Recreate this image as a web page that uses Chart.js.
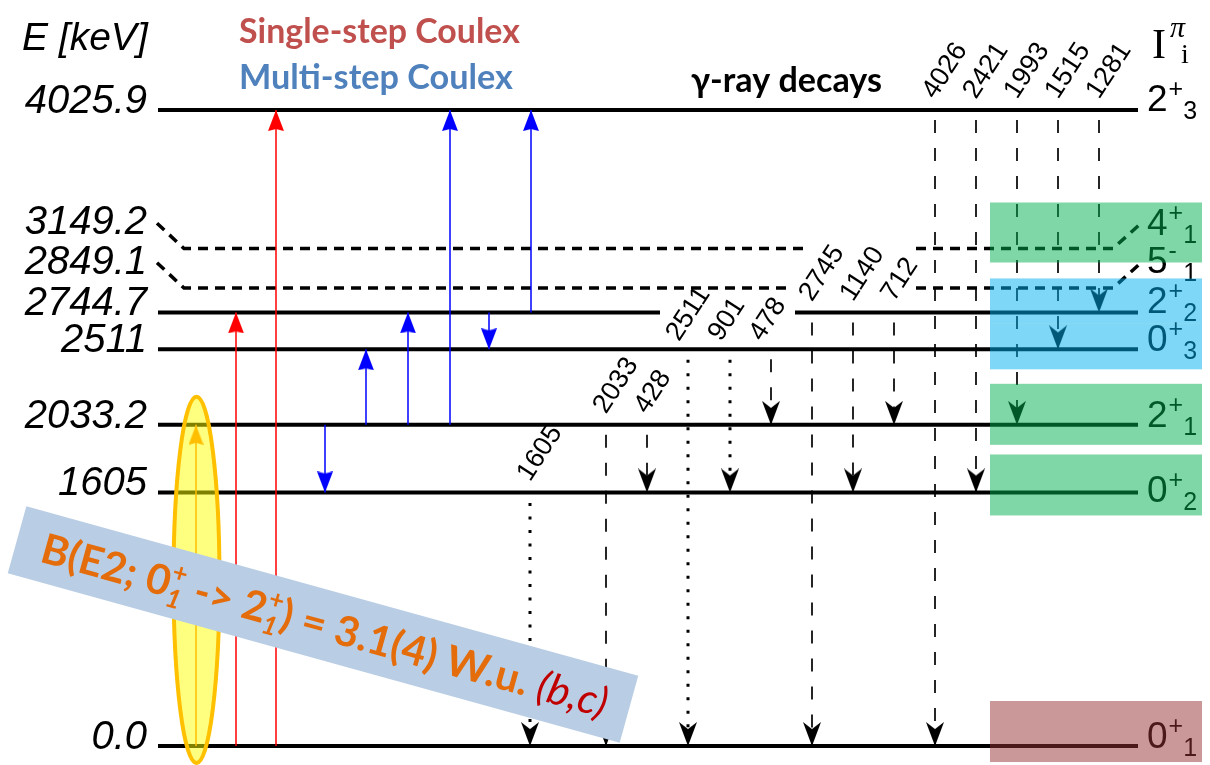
<!DOCTYPE html>
<html>
<head>
<meta charset="utf-8">
<script src="https://cdn.jsdelivr.net/npm/chart.js@4.4.1/dist/chart.umd.min.js"></script>
<style>
  html, body { margin: 0; padding: 0; background: #fff; }
  #wrap { width: 1210px; height: 765px; }
</style>
</head>
<body>
<div id="wrap"><canvas id="scheme" width="1210" height="765"></canvas></div>
<script>
// levels (keV) with spin / parity / index
const levelEnergies = [0.0, 1605, 2033.2, 2511, 2744.7, 2849.1, 3149.2, 4025.9];
const levelLabels = ["0.0", "1605", "2033.2", "2511", "2744.7", "2849.1", "3149.2", "4025.9"];
const levelSpins = ["0", "0", "2", "0", "2", "5", "4", "2"];
const levelParities = ["+", "+", "+", "+", "+", "-", "+", "+"];
const levelIndices = ["1", "2", "1", "3", "2", "1", "1", "3"];
const levelTentative = [false, false, false, false, false, true, true, false];

// Coulomb excitation paths
const singleFrom = [0.0, 0.0];
const singleTo = [2744.7, 4025.9];
const multiFrom = [2033.2, 2033.2, 2033.2, 2744.7, 2033.2, 2744.7];
const multiTo = [2511, 2744.7, 4025.9, 4025.9, 1605, 2511];
const highlightFrom = [0.0];
const highlightTo = [2033.2];

// gamma-ray decays
const gammaLabels = ["1605", "2033", "428", "2511", "901", "478", "2745", "1140", "712", "4026", "2421", "1993", "1515", "1281"];
const gammaFrom = [1605, 2033.2, 2033.2, 2511, 2511, 2511, 2744.7, 2744.7, 2744.7, 4025.9, 4025.9, 4025.9, 4025.9, 4025.9];
const gammaTo = [0.0, 0.0, 1605, 0.0, 1605, 2033.2, 0.0, 1605, 2033.2, 0.0, 1605, 2033.2, 2511, 2744.7];
const gammaDotted = [true, false, false, true, true, false, false, false, false, false, false, false, false, false];

// ---- layout (columns on a 0..1210 x axis) ----
const LX0 = 158, LX1 = 1138;
const singleCols = [236, 276];
const multiCols = [366, 408, 450, 531, 325, 489];
const highlightCols = [196];
const gammaCols = [530, 606, 647, 688, 730, 771, 812, 853, 894, 935, 976, 1017, 1058, 1099];
const levelNudge = [0, 0, 0, 0, 0, 50, 0, 0]; // 2849.1 drawn a bit higher, as in the scheme
const KINK = 160;
const SANS = '"Liberation Sans", Arial, sans-serif';
const SERIF = '"Liberation Serif", "Times New Roman", serif';
const CAL = 'Lato, "Open Sans", sans-serif';

function makeHead(color, w, h, notch, up) {
  const c = document.createElement("canvas");
  c.width = w; c.height = 2 * h;
  const g = c.getContext("2d");
  g.fillStyle = color;
  if (up) { g.translate(0, 2 * h); g.scale(1, -1); }
  g.beginPath();
  g.moveTo(w / 2, h);
  g.lineTo(0, 0);
  g.lineTo(w / 2, notch);
  g.lineTo(w, 0);
  g.closePath();
  g.fill();
  return c;
}

const headBlack = makeHead("#000", 18, 24, 7, false);
const headRedUp = makeHead("#ff0000", 16, 21, 2, true);
const headBlueUp = makeHead("#0000ff", 16, 21, 2, true);
const headBlueDown = makeHead("#0000ff", 16, 21, 2, false);
const headOrangeUp = makeHead("#ff7f00", 15, 20, 2, true);

function arrow(x, e0, e1, color, width, head, dash, offset) {
  return {
    data: [{ x: x, y: e0 }, { x: x, y: e1 }],
    showLine: true,
    borderColor: color,
    borderWidth: width,
    borderDash: dash || [],
    borderDashOffset: offset || 0,
    borderCapStyle: "butt",
    pointRadius: [0, 4],
    pointHoverRadius: [0, 4],
    pointStyle: ["circle", head],
    fill: false
  };
}

const datasets = [];
singleFrom.forEach((e, i) => datasets.push(arrow(singleCols[i], e, singleTo[i], "#ff0000", 1.5, headRedUp)));
highlightFrom.forEach((e, i) => datasets.push(arrow(highlightCols[i], e, highlightTo[i], "#ff7f00", 1.5, headOrangeUp)));
multiFrom.forEach((e, i) => {
  const up = multiTo[i] > e;
  datasets.push(arrow(multiCols[i], e, multiTo[i], "#0000ff", 1.5, up ? headBlueUp : headBlueDown));
});
gammaFrom.forEach((e, i) => {
  const dotted = gammaDotted[i];
  datasets.push(arrow(gammaCols[i], e, gammaTo[i], "#000", dotted ? 3 : 1.7, headBlack,
    dotted ? [3, 10.5] : [13, 15], dotted ? 3 : 18));
});

// level lines
levelEnergies.forEach((e, i) => {
  const E = e + levelNudge[i];
  let pts;
  if (levelTentative[i]) {
    const gapL = e < 3000 ? 787 : 803;
    pts = [{ x: 157, y: E + KINK }, { x: 184, y: E }, { x: gapL, y: E }, { x: 850, y: null },
      { x: 916, y: E }, { x: 1113, y: E }, { x: 1141, y: E + KINK }];
  } else if (e === 2744.7) {
    pts = [{ x: LX0, y: E }, { x: 660, y: E }, { x: 720, y: null }, { x: 795, y: E }, { x: LX1, y: E }];
  } else {
    pts = [{ x: LX0, y: E }, { x: LX1, y: E }];
  }
  datasets.push({
    data: pts,
    showLine: true,
    spanGaps: false,
    borderColor: "#000",
    borderWidth: levelTentative[i] ? 3.5 : 4,
    borderDash: levelTentative[i] ? [10, 7] : [],
    borderCapStyle: "butt",
    pointRadius: 0,
    pointHoverRadius: 0,
    fill: false
  });
});

function fitSize(ctx, text, style, family, target) {
  ctx.font = style + " 100px " + family;
  return 100 * target / ctx.measureText(text).width;
}

const annotations = {
  id: "annotations",
  afterDatasetsDraw(chart) {
    const ctx = chart.ctx;
    const xs = chart.scales.x, ys = chart.scales.y;
    const px = (v) => xs.getPixelForValue(v);
    const py = (v) => ys.getPixelForValue(v);
    ctx.save();
    ctx.textBaseline = "alphabetic";

    // headers
    ctx.fillStyle = "#000";
    ctx.font = "italic 39px " + SANS;
    ctx.textAlign = "left";
    ctx.fillText("E [keV]", 22, 50);

    let s = fitSize(ctx, "Single-step Coulex", "bold", CAL, 281);
    ctx.font = "bold " + s + "px " + CAL;
    ctx.fillStyle = "#c0504d";
    ctx.fillText("Single-step Coulex", 239, 43);
    s = fitSize(ctx, "Multi-step Coulex", "bold", CAL, 274);
    ctx.font = "bold " + s + "px " + CAL;
    ctx.fillStyle = "#4f81bd";
    ctx.fillText("Multi-step Coulex", 239, 89);
    s = fitSize(ctx, "\u03b3-ray decays", "bold", CAL, 191);
    ctx.font = "bold " + s + "px " + CAL;
    ctx.fillStyle = "#000";
    ctx.fillText("\u03b3-ray decays", 691, 92);

    ctx.font = "42px " + SERIF;
    ctx.fillText("I", 1152, 58);
    ctx.font = "italic 30px " + SERIF;
    ctx.fillText("\u03c0", 1170, 37);
    ctx.font = "28px " + SERIF;
    ctx.fillText("i", 1181, 63);

    // level energy labels (left) and spin labels (right)
    const spinDy = [2, 10, 2, 2, 1, 10, 12, 1];
    levelEnergies.forEach((e, i) => {
      const E = e + levelNudge[i];
      const yLeft = levelTentative[i] ? py(E + KINK) + 11 : py(E) + 3;
      ctx.font = "italic 40px " + SANS;
      ctx.textAlign = "right";
      ctx.fillStyle = "#000";
      ctx.fillText(levelLabels[i], 147, yLeft);

      const base = (levelTentative[i] ? py(E + KINK) : py(E)) + spinDy[i];
      ctx.textAlign = "left";
      ctx.font = "37px " + SANS;
      let x = 1147;
      ctx.fillText(levelSpins[i], x, base);
      x += ctx.measureText(levelSpins[i]).width + 1;
      ctx.font = "25px " + SANS;
      ctx.fillText(levelParities[i], x, base - 14);
      x += ctx.measureText("+").width;
      ctx.fillText(levelIndices[i], x, base + 8);
    });

    // gamma-ray energy labels
    ctx.font = "27px " + SANS;
    ctx.fillStyle = "#000";
    ctx.textAlign = "left";
    gammaLabels.forEach((t, i) => {
      const shift = gammaFrom[i] === 2511 ? [-9, -7] : [0, -10];
      ctx.save();
      ctx.translate(px(gammaCols[i]) + shift[0], py(gammaFrom[i]) + shift[1]);
      ctx.rotate(-57 * Math.PI / 180);
      ctx.fillText(t, 0, 0);
      ctx.restore();
    });

    // highlighted level boxes
    const boxes = [
      [6, -46, 14, "rgba(0,176,80,0.5)"],
      [4, -34, 11, "rgba(0,176,240,0.5)"],
      [3, -26, 20, "rgba(0,176,240,0.5)"],
      [2, -41, 20, "rgba(0,176,80,0.5)"],
      [1, -38, 23, "rgba(0,176,80,0.5)"],
      [0, -45, 16, "rgba(150,50,50,0.5)"]
    ];
    boxes.forEach(([li, t, b, c]) => {
      const yy = py(levelEnergies[li] + levelNudge[li]);
      ctx.fillStyle = c;
      ctx.fillRect(990, yy + t, 212, b - t);
    });

    // highlight ellipse around the 0+ -> 2+ excitation
    const top = py(highlightTo[0]) - 28, bot = py(highlightFrom[0]) + 17;
    ctx.beginPath();
    ctx.ellipse(px(highlightCols[0]) + 0.5, (top + bot) / 2, 23, (bot - top) / 2, 0, 0, Math.PI * 2);
    ctx.fillStyle = "rgba(255,255,0,0.5)";
    ctx.fill();
    ctx.lineWidth = 4;
    ctx.strokeStyle = "#ffc000";
    ctx.stroke();

    // B(E2) banner
    ctx.save();
    ctx.translate(323, 624.5);
    ctx.rotate(15.5 * Math.PI / 180);
    ctx.fillStyle = "#b9cde5";
    ctx.fillRect(-317.5, -34.75, 635, 69.5);

    const segs = [
      { t: "B(E2; 0" }, { sup: "+", sub: "1" }, { t: " -> 2" }, { sup: "+", sub: "1" },
      { t: ") = 3.1(4) W.u. " }, { t: "(b,c)", ref: true }
    ];
    const fontFor = (sg, f) => sg.ref ? "italic " + f + "px " + CAL : "bold " + f + "px " + CAL;
    const widthAt = (f) => segs.reduce((acc, sg) => {
      if (sg.sup) {
        ctx.font = "bold " + (f * 0.62) + "px " + CAL;
        const a = ctx.measureText(sg.sup).width;
        ctx.font = "italic bold " + (f * 0.62) + "px " + CAL;
        return acc + Math.max(a, ctx.measureText(sg.sub).width) + 1;
      }
      ctx.font = fontFor(sg, f);
      return acc + ctx.measureText(sg.t).width;
    }, 0);
    const f = 100 * 585 / widthAt(100);
    let tx = -291;
    const by = 15;
    segs.forEach((sg) => {
      if (sg.sup) {
        ctx.fillStyle = "#e46c0a";
        ctx.font = "bold " + (f * 0.62) + "px " + CAL;
        const a = ctx.measureText(sg.sup).width;
        ctx.fillText(sg.sup, tx, by - f * 0.42);
        ctx.font = "italic bold " + (f * 0.62) + "px " + CAL;
        ctx.fillText(sg.sub, tx, by + f * 0.22);
        tx += Math.max(a, ctx.measureText(sg.sub).width) + 1;
        return;
      }
      ctx.font = fontFor(sg, f);
      ctx.fillStyle = sg.ref ? "#c00000" : "#e46c0a";
      ctx.fillText(sg.t, tx, by);
      tx += ctx.measureText(sg.t).width;
    });
    ctx.restore();

    ctx.restore();
  }
};

new Chart(document.getElementById("scheme"), {
  type: "scatter",
  data: { datasets: datasets },
  options: {
    responsive: false,
    animation: false,
    events: [],
    layout: { padding: 0, autoPadding: false },
    plugins: { legend: { display: false }, tooltip: { enabled: false } },
    scales: {
      x: { type: "linear", display: false, min: 0, max: 1210 },
      y: { type: "linear", display: false, min: -120.2, max: 4722.3 }
    }
  },
  plugins: [annotations]
});
</script>
</body>
</html>
